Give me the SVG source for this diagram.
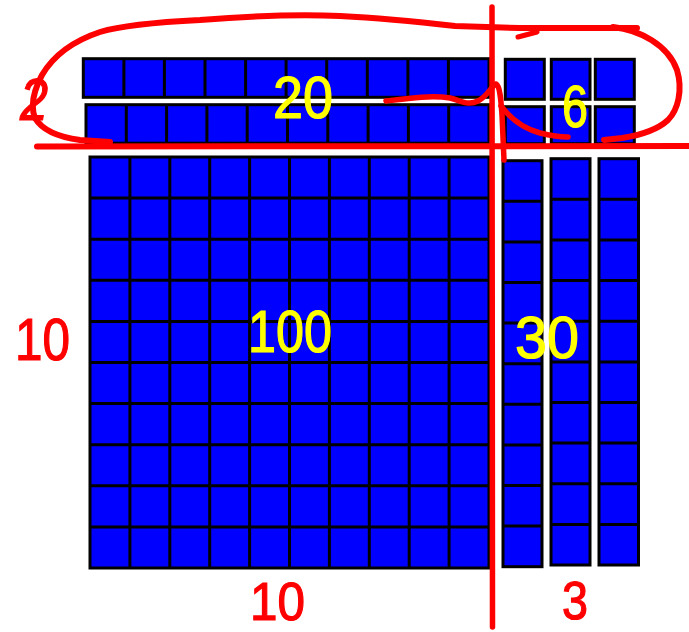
<svg xmlns="http://www.w3.org/2000/svg" width="689" height="632" viewBox="0 0 689 632">
<style>
.blk{fill:#0000FF;stroke:#000;stroke-width:3}
.gl{fill:none;stroke:#000;stroke-width:3}
.ink{fill:none;stroke:#FF0000;stroke-linecap:round;stroke-linejoin:round}
.yl{font-family:"Liberation Sans",Arial,sans-serif;fill:#FFFF00;stroke:#FFFF00;stroke-width:1.2;font-size:60px}
.rd{font-family:"Liberation Sans",Arial,sans-serif;fill:#FF0000;stroke:#FF0000;stroke-width:1.2;font-size:60px}
.rs{font-family:"Liberation Sans",Arial,sans-serif;fill:#FF0000;stroke:#FF0000;stroke-width:1.2;font-size:54px}
</style>
<rect width="689" height="632" fill="#fff"/>
<g id="hundred">
<rect class="blk" x="90" y="157" width="399" height="411"/>
<path class="gl" d="M129.9 157V568M169.8 157V568M209.7 157V568M249.6 157V568M289.5 157V568M329.4 157V568M369.3 157V568M409.2 157V568M449.1 157V568M90 198.1H489M90 239.2H489M90 280.3H489M90 321.4H489M90 362.5H489M90 403.6H489M90 444.7H489M90 485.8H489M90 526.9H489"/>
</g>
<g id="tens-rows">
<rect class="blk" x="83.3" y="58.7" width="405.7" height="38.6"/>
<path class="gl" d="M123.9 58.7V97.3M164.4 58.7V97.3M205 58.7V97.3M245.6 58.7V97.3M286.1 58.7V97.3M326.7 58.7V97.3M367.3 58.7V97.3M407.9 58.7V97.3M448.4 58.7V97.3"/>
<rect class="blk" x="86" y="104.7" width="403" height="38.5"/>
<path class="gl" d="M126.3 104.7V143.2M166.6 104.7V143.2M206.9 104.7V143.2M247.2 104.7V143.2M287.5 104.7V143.2M327.8 104.7V143.2M368.1 104.7V143.2M408.4 104.7V143.2M448.7 104.7V143.2"/>
</g>
<g id="tens-cols">
<rect class="blk" x="503" y="160.7" width="39" height="406"/>
<path class="gl" d="M503 201.3H542M503 241.9H542M503 282.5H542M503 323.1H542M503 363.7H542M503 404.3H542M503 444.9H542M503 485.5H542M503 526.1H542"/>
<rect class="blk" x="551" y="158.7" width="39" height="406.3"/>
<rect class="blk" x="599" y="158.7" width="39.5" height="406.3"/>
<path class="gl" d="M551 199.3H590M551 239.9H590M551 280.6H590M551 321.2H590M551 361.9H590M551 402.5H590M551 443.1H590M551 483.7H590M551 524.4H590M599 199.3H638.5M599 239.9H638.5M599 280.6H638.5M599 321.2H638.5M599 361.9H638.5M599 402.5H638.5M599 443.1H638.5M599 483.7H638.5M599 524.4H638.5"/>
</g>
<g id="units">
<rect class="blk" x="505.3" y="59.3" width="39" height="40"/>
<rect class="blk" x="551.3" y="59.3" width="38.7" height="40"/>
<rect class="blk" x="595.3" y="59.3" width="39" height="40"/>
<rect class="blk" x="505.3" y="106.7" width="39" height="37"/>
<rect class="blk" x="551.3" y="106.7" width="38.7" height="37"/>
<rect class="blk" x="595.3" y="106.7" width="39" height="37"/>
</g>
<g id="labels">
<text class="yl" x="273" y="118" textLength="60" lengthAdjust="spacingAndGlyphs">20</text>
<text class="yl" x="562" y="127" textLength="26" lengthAdjust="spacingAndGlyphs">6</text>
<text class="yl" x="248" y="352" textLength="84" lengthAdjust="spacingAndGlyphs">100</text>
<text class="yl" x="515" y="358" textLength="64" lengthAdjust="spacingAndGlyphs">30</text>
<text class="rd" x="15" y="360" textLength="55" lengthAdjust="spacingAndGlyphs">10</text>
<text class="rs" x="250" y="620" textLength="55" lengthAdjust="spacingAndGlyphs">10</text>
<text class="rs" x="562" y="619" textLength="26" lengthAdjust="spacingAndGlyphs">3</text>
<text class="rd" x="20" y="120" font-style="italic" textLength="28" lengthAdjust="spacingAndGlyphs">2</text>
</g>
<g id="annotations">
<path class="ink" stroke-width="6" d="M637 28 L520 28 L455 26 C420 22 380 18 340 16 C300 14 250 16 200 20 C160 22 120 26 100 32 C70 42 52 58 42 75 C34 90 30 105 35 118 C42 130 58 137 80 140 L110 142"/>
<path class="ink" stroke-width="6" d="M613 27 C640 30 668 45 677 70 C683 90 678 110 668 120 C655 132 635 136 622 138 L604 140"/>
<path class="ink" stroke-width="5" d="M518 37 L537 32"/>
<path class="ink" stroke-width="6" d="M37 146.5 L689 146"/>
<path class="ink" stroke-width="5.5" d="M492 7 L492.5 627"/>
<path class="ink" stroke-width="5.5" d="M386 101 C410 98 432 95 450 98 C462 101 468 106 478 101 C488 96 492 85 496 84 C500 86 501 100 502 115 L504 160"/>
<path class="ink" stroke-width="5.5" d="M501 106 C510 118 522 128 540 133 C552 136 560 137 568 137"/>
</g>
</svg>
